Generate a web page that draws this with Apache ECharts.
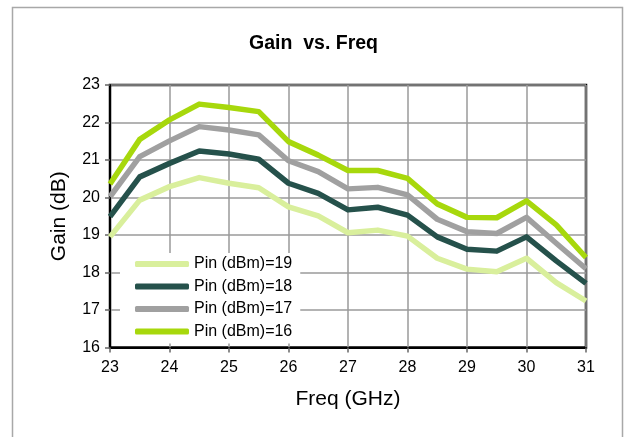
<!DOCTYPE html>
<html>
<head>
<meta charset="utf-8">
<script src="https://cdn.jsdelivr.net/npm/echarts@6/dist/echarts.min.js"></script>
<style>
  html, body { margin: 0; padding: 0; background: #fff; }
  #chart { width: 627px; height: 437px; }
</style>
</head>
<body>
<div id="chart"></div>
<script>
// Frequency sweep points (GHz)
const freq = [23, 23.5, 24, 24.5, 25, 25.5, 26, 26.5, 27, 27.5, 28, 28.5, 29, 29.5, 30, 30.5, 31];

// Gain (dB) for each input power level
const gainPin19 = [18.95, 19.93, 20.29, 20.53, 20.38, 20.26, 19.75, 19.51, 19.06, 19.13, 18.97, 18.38, 18.09, 18.02, 18.38, 17.73, 17.24];
const gainPin18 = [19.49, 20.55, 20.91, 21.24, 21.16, 21.02, 20.38, 20.11, 19.67, 19.74, 19.53, 18.95, 18.62, 18.57, 18.95, 18.31, 17.71];
const gainPin17 = [20.02, 21.09, 21.51, 21.89, 21.80, 21.67, 20.98, 20.69, 20.23, 20.27, 20.07, 19.42, 19.09, 19.04, 19.47, 18.78, 18.10];
const gainPin16 = [20.36, 21.55, 22.07, 22.49, 22.40, 22.29, 21.49, 21.13, 20.72, 20.72, 20.51, 19.83, 19.47, 19.46, 19.91, 19.27, 18.40];

const seriesNames = ['Pin (dBm)=19', 'Pin (dBm)=18', 'Pin (dBm)=17', 'Pin (dBm)=16'];
const seriesValues = [gainPin19, gainPin18, gainPin17, gainPin16];
const seriesColors = ['#d9ef9c', '#25514b', '#a0a0a0', '#a7d80c'];

const xTicks = { min: 23, max: 31, interval: 1 };
const yTicks = { min: 16, max: 23, interval: 1 };

const FONT = 'Liberation Sans, Arial, sans-serif';

const chart = echarts.init(document.getElementById('chart'), null, { renderer: 'canvas' });

chart.setOption({
  backgroundColor: '#ffffff',
  animation: false,
  graphic: [{
    type: 'rect',
    shape: { x: 12.5, y: 7.5, width: 610, height: 440 },
    style: { fill: 'none', stroke: '#a8a8a8', lineWidth: 1.5 },
    silent: true,
    z: -10
  }],
  title: {
    text: 'Gain  vs. Freq',
    left: 'center',
    top: 29,
    textStyle: { fontFamily: FONT, fontSize: 19.5, fontWeight: 'bold', color: '#000' }
  },
  grid: {
    left: 110, top: 85, right: 41, bottom: 89.5,
    show: true, borderColor: '#000', borderWidth: 2.5, backgroundColor: 'transparent'
  },
  legend: {
    orient: 'vertical',
    left: 120, top: 253,
    padding: [3, 8, 4, 15],
    backgroundColor: '#ffffff',
    itemWidth: 54, itemHeight: 6, itemGap: 6.5,
    icon: 'roundRect',
    textStyle: { fontFamily: FONT, fontSize: 16, color: '#000', lineHeight: 16 },
    data: seriesNames.map((n, i) => ({ name: n, itemStyle: { color: seriesColors[i] } }))
  },
  xAxis: {
    type: 'value',
    min: xTicks.min, max: xTicks.max, interval: xTicks.interval,
    name: 'Freq (GHz)', nameLocation: 'middle', nameGap: 41,
    nameTextStyle: { fontFamily: FONT, fontSize: 21, color: '#000' },
    axisLine: { lineStyle: { color: '#000', width: 2 } },
    axisTick: { show: true, length: 5, lineStyle: { color: '#666', width: 1.5 } },
    axisLabel: { fontFamily: FONT, fontSize: 16, color: '#000', margin: 12 },
    splitLine: { show: true, lineStyle: { color: '#9a9a9a', width: 1.5 } }
  },
  yAxis: {
    type: 'value',
    min: yTicks.min, max: yTicks.max, interval: yTicks.interval,
    name: 'Gain (dB)', nameLocation: 'middle', nameGap: 40,
    nameTextStyle: { fontFamily: FONT, fontSize: 21, color: '#000' },
    axisLine: { show: true, lineStyle: { color: '#000', width: 2 } },
    axisTick: { show: true, length: 5, lineStyle: { color: '#666', width: 1.5 } },
    axisLabel: { fontFamily: FONT, fontSize: 16, color: '#000', margin: 10 },
    splitLine: { show: true, lineStyle: { color: '#9a9a9a', width: 1.5 } }
  },
  series: seriesNames.map((name, i) => ({
    name,
    type: 'line',
    symbol: 'none',
    z: 2,
    lineStyle: { color: seriesColors[i], width: 5.5, join: 'round', cap: 'butt' },
    itemStyle: { color: seriesColors[i] },
    data: freq.map((f, k) => [f, seriesValues[i][k]])
  }))
});
</script>
</body>
</html>
